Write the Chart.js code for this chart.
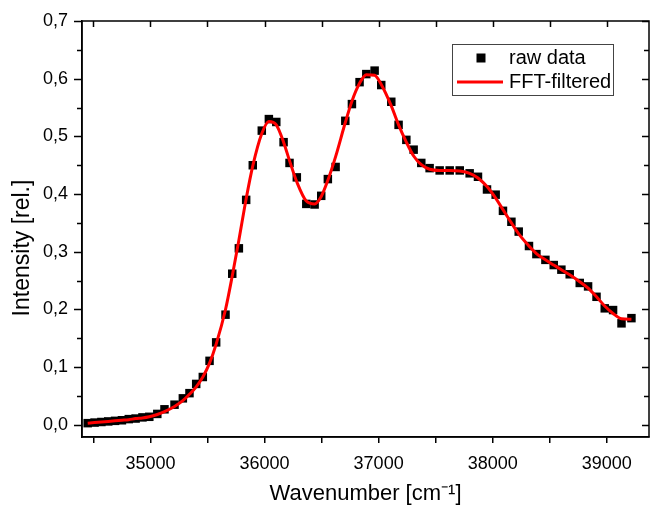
<!DOCTYPE html>
<html><head><meta charset="utf-8">
<script src="https://cdn.jsdelivr.net/npm/chart.js@4.4.1/dist/chart.umd.min.js"></script>
<style>html,body{margin:0;padding:0;background:#fff}</style>
</head><body>
<canvas id="c" width="650" height="509"></canvas>
<script>
const wavenumbers = [34450,34510,34570,34630,34690,34750,34810,34870,34930,34990,35060,35123,35211,35284,35342,35401,35459,35518,35576,35658,35717,35775,35839,35897,35976,36038,36103,36167,36219,36283,36366,36439,36497,36555,36623,36708,36766,36833,36892,36965,37023,37111,37175,37243,37307,37374,37447,37535,37623,37711,37798,37871,37950,38026,38090,38164,38228,38318,38383,38462,38535,38602,38675,38763,38836,38910,38982,39055,39129,39216];
const rawIntensity = [0.003,0.004,0.005,0.006,0.007,0.008,0.010,0.011,0.013,0.014,0.019,0.027,0.035,0.046,0.055,0.071,0.083,0.111,0.143,0.191,0.262,0.306,0.390,0.450,0.510,0.530,0.525,0.490,0.454,0.429,0.383,0.382,0.397,0.426,0.447,0.527,0.556,0.594,0.608,0.614,0.589,0.560,0.520,0.494,0.477,0.454,0.445,0.441,0.441,0.441,0.436,0.430,0.408,0.399,0.371,0.352,0.335,0.310,0.296,0.286,0.277,0.269,0.261,0.246,0.240,0.222,0.202,0.199,0.176,0.185];
const filteredIntensity = [0.003,0.004,0.005,0.006,0.007,0.008,0.009,0.011,0.012,0.014,0.018,0.023,0.032,0.042,0.053,0.066,0.083,0.107,0.140,0.200,0.258,0.320,0.392,0.449,0.505,0.526,0.520,0.490,0.458,0.421,0.388,0.383,0.396,0.424,0.465,0.524,0.561,0.592,0.607,0.606,0.590,0.553,0.520,0.490,0.466,0.451,0.443,0.441,0.441,0.440,0.436,0.428,0.413,0.393,0.373,0.350,0.331,0.310,0.297,0.286,0.277,0.269,0.260,0.248,0.237,0.222,0.206,0.193,0.184,0.183];
const xTickValues = [34500,35000,35500,36000,36500,37000,37500,38000,38500,39000];
const xTickLabels = ['','35000','','36000','','37000','','38000','','39000'];
const yTickValues = [0,0.05,0.1,0.15,0.2,0.25,0.3,0.35,0.4,0.45,0.5,0.55,0.6,0.65,0.7];
const yTickLabels = ['0,0','','0,1','','0,2','','0,3','','0,4','','0,5','','0,6','','0,7'];
const seriesNames = ['raw data','FFT-filtered'];
const xTitle = 'Wavenumber [cm\u207B\u00B9]';
const yTitle = 'Intensity [rel.]';

const FONT = '"Liberation Sans", Arial, sans-serif';

const framePlugin = {
  id: 'framePlugin',
  afterDraw(chart) {
    const {ctx, chartArea: a, scales} = chart;
    ctx.save();
    ctx.strokeStyle = '#000';
    ctx.lineWidth = 1.5;
    ctx.strokeRect(a.left, a.top, a.right - a.left, a.bottom - a.top);
    ctx.beginPath();
    xTickValues.forEach(v => {
      const px = Math.round(scales.x.getPixelForValue(v)) + 0.5;
      ctx.moveTo(px, a.top); ctx.lineTo(px, a.top + 6);
    });
    yTickValues.forEach((v, i) => {
      const py = Math.round(scales.y.getPixelForValue(v)) + 0.5;
      const len = yTickLabels[i] ? 7 : 5;
      ctx.moveTo(a.right, py); ctx.lineTo(a.right - len, py);
      const llen = yTickLabels[i] ? 8 : 5;
      ctx.moveTo(a.left, py); ctx.lineTo(a.left - llen, py);
    });
    ctx.stroke();

    // y title
    ctx.fillStyle = '#000';
    ctx.font = '23px ' + FONT;
    ctx.textAlign = 'center';
    ctx.textBaseline = 'middle';
    ctx.translate(23, 248);
    ctx.rotate(-Math.PI / 2);
    ctx.fillText(yTitle, 0, 0);
    ctx.setTransform(1, 0, 0, 1, 0, 0);

    // legend
    const bx = 452, by = 44, bw = 161, bh = 51;
    ctx.strokeStyle = '#444';
    ctx.lineWidth = 1;
    ctx.strokeRect(bx + 0.5, by + 0.5, bw, bh);
    const ds0 = chart.data.datasets[0], ds1 = chart.data.datasets[1];
    ctx.fillStyle = ds0.backgroundColor;
    ctx.fillRect(476.5, 53.5, 9, 9);
    ctx.strokeStyle = ds1.borderColor;
    ctx.lineWidth = 3;
    ctx.beginPath(); ctx.moveTo(457, 82); ctx.lineTo(503, 82); ctx.stroke();
    ctx.fillStyle = '#000';
    ctx.font = '20px ' + FONT;
    ctx.textAlign = 'left';
    ctx.textBaseline = 'middle';
    ctx.fillText(seriesNames[0], 509, 58);
    ctx.fillText(seriesNames[1], 509, 82);
    ctx.restore();
  }
};

new Chart(document.getElementById('c'), {
  type: 'scatter',
  data: {
    datasets: [
      {
        label: seriesNames[0],
        data: wavenumbers.map((x, i) => ({x, y: rawIntensity[i]})),
        pointStyle: 'rect',
        pointRadius: 6,
        pointHoverRadius: 6,
        backgroundColor: '#000',
        borderWidth: 0,
        showLine: false,
        order: 2
      },
      {
        label: seriesNames[1],
        data: wavenumbers.map((x, i) => ({x, y: filteredIntensity[i]})),
        showLine: true,
        borderColor: '#ff0000',
        backgroundColor: '#ff0000',
        borderWidth: 3,
        pointRadius: 0,
        cubicInterpolationMode: 'monotone',
        fill: false,
        order: 1
      }
    ]
  },
  options: {
    responsive: false,
    animation: false,
    devicePixelRatio: 1,
    layout: {autoPadding: false, padding: {top: 21, right: 1, left: 0, bottom: 0}},
    plugins: {legend: {display: false}, tooltip: {enabled: false}},
    scales: {
      x: {
        type: 'linear',
        min: 34400,
        max: 39370,
        afterFit(s) { s.height = 72; s.paddingLeft = 0; s.paddingRight = 0; },
        afterBuildTicks(s) { s.ticks = xTickValues.map(v => ({value: v})); },
        border: {display: true, color: '#000', width: 1.5},
        grid: {display: true, drawOnChartArea: false, drawTicks: true, tickLength: 6, color: '#000', lineWidth: 1.5},
        ticks: {
          color: '#000', font: {family: FONT, size: 18}, padding: 10, maxRotation: 0, autoSkip: false,
          callback: (v, i) => xTickLabels[i]
        },
        title: {display: true, text: xTitle, color: '#000', font: {family: FONT, size: 22}, padding: {top: 0, bottom: 2}}
      },
      y: {
        type: 'linear',
        min: -0.021,
        max: 0.7,
        afterFit(s) { s.width = 82; s.paddingTop = 0; s.paddingBottom = 0; },
        afterBuildTicks(s) { s.ticks = yTickValues.map(v => ({value: v})); },
        border: {display: true, color: '#000', width: 1.5},
        grid: {display: true, drawOnChartArea: false, drawTicks: false},
        ticks: {
          color: '#000', font: {family: FONT, size: 18}, padding: 14, autoSkip: false,
          callback: (v, i) => yTickLabels[i]
        }
      }
    }
  },
  plugins: [framePlugin]
});
</script>
</body></html>
